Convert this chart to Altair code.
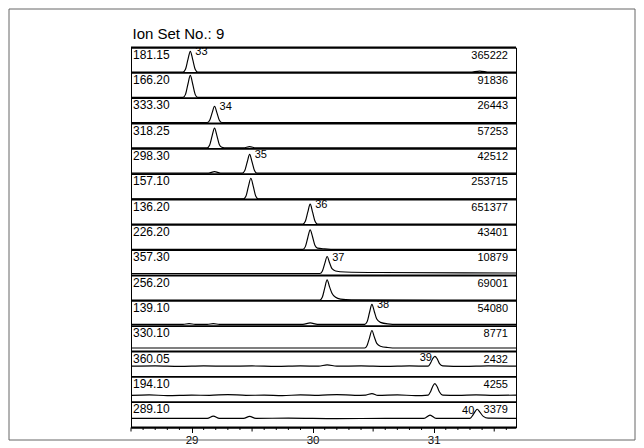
import altair as alt
import pandas as pd

# ---------------- data ----------------
x_domain = [28.5, 31.68]
major_ticks = [29, 30, 31]
mid_ticks = [28.5, 29.5, 30.5, 31.5]
minor_ticks = [28.6, 28.7, 28.8, 28.9, 29.1, 29.2, 29.3, 29.4, 29.6, 29.7, 29.8, 29.9,
               30.1, 30.2, 30.3, 30.4, 30.6, 30.7, 30.8, 30.9, 31.1, 31.2, 31.3, 31.4, 31.6]

ion_labels = ["181.15", "166.20", "333.30", "318.25", "298.30", "157.10", "136.20", "226.20",
              "357.30", "256.20", "139.10", "330.10", "360.05", "194.10", "289.10"]
intensity_labels = ["365222", "91836", "26443", "57253", "42512", "253715", "651377", "43401",
                    "10879", "69001", "54080", "8771", "2432", "4255", "3379"]

# traces: retention time (min) and relative height within the panel (0 = panel bottom, 1 = top)
t0 = [28.5, 28.93, 28.95, 28.97, 28.99, 29.01, 29.03, 29.05, 31.3, 31.38, 31.46, 31.68]
v0 = [0.03, 0.03, 0.14, 0.52, 0.85, 0.52, 0.14, 0.03, 0.03, 0.07, 0.03, 0.03]
t1 = [28.5, 28.93, 28.95, 28.97, 28.99, 29.01, 29.03, 29.05, 31.68]
v1 = [0.03, 0.03, 0.15, 0.55, 0.90, 0.55, 0.15, 0.03, 0.03]
t2 = [28.5, 29.13, 29.15, 29.17, 29.19, 29.21, 29.23, 29.25, 31.68]
v2 = [0.04, 0.04, 0.13, 0.42, 0.68, 0.42, 0.13, 0.04, 0.04]
t3 = [28.5, 29.13, 29.15, 29.17, 29.19, 29.21, 29.23, 29.25, 29.27, 29.43, 29.48, 29.53, 31.68]
v3 = [0.04, 0.04, 0.15, 0.51, 0.82, 0.51, 0.16, 0.06, 0.04, 0.04, 0.09, 0.04, 0.04]
t4 = [28.5, 29.14, 29.19, 29.24, 29.42, 29.44, 29.46, 29.48, 29.50, 29.52, 29.54, 31.68]
v4 = [0.04, 0.04, 0.10, 0.04, 0.04, 0.14, 0.48, 0.78, 0.48, 0.14, 0.04, 0.04]
t5 = [28.5, 29.43, 29.45, 29.47, 29.49, 29.51, 29.53, 29.55, 31.68]
v5 = [0.03, 0.03, 0.14, 0.52, 0.84, 0.52, 0.14, 0.03, 0.03]
t6 = [28.5, 29.92, 29.94, 29.96, 29.98, 30.00, 30.02, 30.04, 31.68]
v6 = [0.03, 0.03, 0.14, 0.50, 0.82, 0.50, 0.14, 0.03, 0.03]
t7 = [28.5, 29.92, 29.94, 29.96, 29.98, 30.00, 30.02, 30.04, 30.1, 30.2, 31.68]
v7 = [0.03, 0.03, 0.14, 0.49, 0.80, 0.52, 0.18, 0.08, 0.05, 0.03, 0.03]
t8 = [28.5, 30.06, 30.08, 30.10, 30.12, 30.14, 30.16, 30.19, 30.27, 30.55, 31.68]
v8 = [0.08, 0.08, 0.17, 0.47, 0.75, 0.50, 0.27, 0.18, 0.14, 0.12, 0.10]
t9 = [28.5, 30.06, 30.08, 30.10, 30.12, 30.14, 30.16, 30.19, 30.23, 30.32, 31.68]
v9 = [0.03, 0.03, 0.14, 0.50, 0.83, 0.55, 0.30, 0.14, 0.07, 0.04, 0.03]
t10 = [28.5, 28.93, 28.98, 29.03, 29.13, 29.18, 29.23, 29.92, 29.98, 30.04, 30.43, 30.45,
       30.47, 30.49, 30.51, 30.53, 30.56, 30.62, 30.7, 31.68]
v10 = [0.07, 0.07, 0.10, 0.07, 0.07, 0.10, 0.07, 0.07, 0.13, 0.07, 0.07, 0.17,
       0.54, 0.86, 0.57, 0.28, 0.15, 0.09, 0.07, 0.07]
t11 = [28.5, 30.43, 30.45, 30.47, 30.49, 30.51, 30.53, 30.56, 30.62, 30.7, 31.68]
v11 = [0.14, 0.14, 0.24, 0.54, 0.83, 0.57, 0.32, 0.21, 0.16, 0.14, 0.14]
t12 = [28.5, 28.7, 28.9, 29.1, 29.3, 29.5, 29.7, 29.9, 30.05, 30.12, 30.2, 30.4, 30.6, 30.8,
       30.955, 30.975, 30.992, 31.01, 31.028, 31.048, 31.075, 31.25, 31.45, 31.68]
v12 = [0.42, 0.43, 0.41, 0.43, 0.42, 0.43, 0.41, 0.43, 0.42, 0.47, 0.42, 0.43, 0.41, 0.43,
       0.42, 0.55, 0.72, 0.81, 0.72, 0.52, 0.43, 0.41, 0.43, 0.42]
t13 = [28.5, 28.65, 28.8, 29.0, 29.15, 29.3, 29.45, 29.6, 29.75, 29.9, 30.05, 30.2, 30.35,
       30.44, 30.49, 30.54, 30.7, 30.85, 30.955, 30.975, 30.992, 31.01, 31.028, 31.048, 31.075,
       31.2, 31.35, 31.5, 31.68]
v13 = [0.27, 0.29, 0.26, 0.28, 0.27, 0.30, 0.27, 0.28, 0.26, 0.29, 0.27, 0.30, 0.27,
       0.28, 0.34, 0.27, 0.29, 0.26, 0.28, 0.42, 0.62, 0.73, 0.62, 0.40, 0.28,
       0.27, 0.29, 0.27, 0.28]
t14 = [28.5, 28.8, 29.13, 29.18, 29.23, 29.43, 29.48, 29.53, 29.8, 30.2, 30.6, 30.92, 30.97,
       31.02, 31.3, 31.325, 31.345, 31.36, 31.38, 31.41, 31.45, 31.68]
v14 = [0.36, 0.36, 0.36, 0.45, 0.36, 0.36, 0.44, 0.36, 0.37, 0.35, 0.36, 0.36, 0.49,
       0.36, 0.36, 0.50, 0.65, 0.72, 0.62, 0.44, 0.37, 0.36]

peak_ids = ["33", "34", "35", "36", "37", "38", "39", "40"]
peak_panel = [0, 2, 4, 6, 8, 10, 12, 14]
peak_time = [28.99, 29.19, 29.48, 29.98, 30.12, 30.49, 31.01, 31.36]
peak_top = [0.85, 0.68, 0.78, 0.82, 0.75, 0.86, 0.81, 0.72]
peak_side = ["right", "right", "right", "right", "right", "right", "left", "left"]

# ---------------- tables ----------------
n = len(ion_labels)
traces = [(t0, v0), (t1, v1), (t2, v2), (t3, v3), (t4, v4), (t5, v5), (t6, v6), (t7, v7),
          (t8, v8), (t9, v9), (t10, v10), (t11, v11), (t12, v12), (t13, v13), (t14, v14)]
rows = []
for i, (ts, vs) in enumerate(traces):
    for t, v in zip(ts, vs):
        rows.append({"panel": i, "t": t, "y": (n - 1 - i) + v})
trace_df = pd.DataFrame(rows)

label_df = pd.DataFrame({"panel": list(range(n)), "ion": ion_labels,
                         "inten": intensity_labels,
                         "top": [n - i for i in range(n)]})
bound_df = pd.DataFrame({"b": list(range(n + 1))})
peak_df = pd.DataFrame({"t": peak_time, "label": peak_ids, "side": peak_side,
                        "y": [(n - 1 - p) + h for p, h in zip(peak_panel, peak_top)]})
minor_df = pd.DataFrame({"t": minor_ticks})
mid_df = pd.DataFrame({"t": mid_ticks})
one_df = pd.DataFrame({"a": [0]})

W, H = 385, 380
FONT = "Liberation Sans"
xscale = alt.Scale(domain=x_domain, nice=False, zero=False)
yscale = alt.Scale(domain=[0, n], nice=False, zero=False)
xaxis = alt.Axis(values=major_ticks, title=None, grid=False, domain=False, tickSize=5,
                 tickColor="black", labelColor="black", labelFontSize=11.5, labelFont=FONT,
                 labelPadding=2, format="d")


def X(field):
    return alt.X(field, type="quantitative", scale=xscale, axis=xaxis)


def Y(field):
    return alt.Y(field, type="quantitative", scale=yscale, axis=None)


lines = alt.Chart(trace_df).mark_line(color="black", strokeWidth=1.15, interpolate="monotone").encode(
    x=X("t"), y=Y("y"), detail="panel:N", order="t:Q")

bounds = alt.Chart(bound_df).mark_rule(color="black", strokeWidth=1.8).encode(
    x=alt.value(0), x2=alt.value(W), y=Y("b"))

left_lab = alt.Chart(label_df).mark_text(align="left", baseline="alphabetic", dy=11,
                                         fontSize=12, font=FONT, color="black").encode(
    x=alt.value(2), y=Y("top"), text="ion:N")
right_lab = alt.Chart(label_df).mark_text(align="right", baseline="alphabetic", dy=11,
                                          fontSize=11, font=FONT, color="black").encode(
    x=alt.value(W - 8), y=Y("top"), text="inten:N")

peak_r = alt.Chart(peak_df).transform_filter(alt.datum.side == "right").mark_text(
    align="left", baseline="middle", dx=5, dy=1, fontSize=11, font=FONT, color="black").encode(
    x=X("t"), y=Y("y"), text="label:N")
peak_l = alt.Chart(peak_df).transform_filter(alt.datum.side == "left").mark_text(
    align="right", baseline="middle", dx=-3, dy=2, fontSize=11, font=FONT, color="black").encode(
    x=X("t"), y=Y("y"), text="label:N")

minor = alt.Chart(minor_df).mark_rule(color="black", strokeWidth=1).encode(
    x=X("t"), y=alt.value(H), y2=alt.value(H + 2.5))
mid = alt.Chart(mid_df).mark_rule(color="black", strokeWidth=1).encode(
    x=X("t"), y=alt.value(H), y2=alt.value(H + 4))

title = alt.Chart(one_df).mark_text(text="Ion Set No.: 9", align="left", baseline="alphabetic",
                                    fontSize=15, font=FONT, color="black").encode(
    x=alt.value(1.5), y=alt.value(-9))

# outer frame around the whole figure
FL, FR, FT, FB = -122, 504, -38.5, 392.5
frame_top = alt.Chart(one_df).mark_rule(color="#666666", strokeWidth=1).encode(
    x=alt.value(FL), x2=alt.value(FR), y=alt.value(FT))
frame_bot = alt.Chart(one_df).mark_rule(color="#666666", strokeWidth=1).encode(
    x=alt.value(FL), x2=alt.value(FR), y=alt.value(FB))
frame_left = alt.Chart(one_df).mark_rule(color="#666666", strokeWidth=1).encode(
    x=alt.value(FL), y=alt.value(FT), y2=alt.value(FB))
frame_right = alt.Chart(one_df).mark_rule(color="#666666", strokeWidth=1).encode(
    x=alt.value(FR), y=alt.value(FT), y2=alt.value(FB))

chart = alt.layer(frame_top, frame_bot, frame_left, frame_right, title, lines, bounds,
                  left_lab, right_lab, peak_r, peak_l, minor, mid).properties(
    width=W, height=H,
    autosize=alt.AutoSizeParams(type="none"),
    padding={"left": 123, "top": 39.5, "right": 120, "bottom": 20.5},
    background="white",
).configure_view(stroke="black", strokeWidth=1)

chart.save("out.html", embed_options={"renderer": "svg", "actions": False})
